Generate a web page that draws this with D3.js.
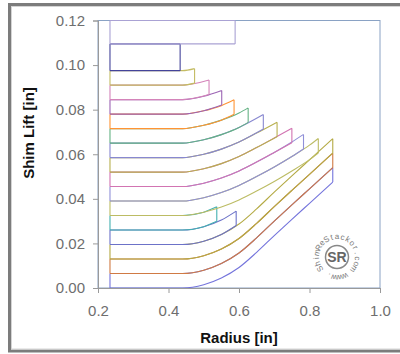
<!DOCTYPE html>
<html>
<head>
<meta charset="utf-8">
<script src="https://cdn.jsdelivr.net/npm/d3@7"></script>
<style>
  body { margin: 0; background: #fff; }
  svg { display: block; font-family: "Liberation Sans", Arial, sans-serif; }
</style>
</head>
<body>
<div id="chart"></div>
<script>
// shim stack, bottom (face shim) to top (clamp side)
// each shim: bottom edge as [radius, lift] pairs, in inches
const shimBottoms = [
  [[0.234, 0], [0.44, 0], [0.5, 0.0015], [0.55, 0.0045], [0.6, 0.0092], [0.65, 0.016], [0.7, 0.0235], [0.75, 0.0308], [0.8, 0.038], [0.866, 0.0475]],
  [[0.234, 0.0065], [0.44, 0.0065], [0.5, 0.008], [0.55, 0.011], [0.6, 0.0157], [0.65, 0.0225], [0.7, 0.03], [0.75, 0.0373], [0.8, 0.0445], [0.866, 0.054]],
  [[0.234, 0.013], [0.44, 0.013], [0.5, 0.0145], [0.55, 0.0175], [0.6, 0.0222], [0.65, 0.029], [0.7, 0.0365], [0.75, 0.0438], [0.8, 0.051], [0.866, 0.0605]],
  [[0.234, 0.0195], [0.44, 0.0195], [0.5, 0.021], [0.55, 0.024], [0.592, 0.028]],
  [[0.234, 0.026], [0.44, 0.026], [0.5, 0.0275], [0.537, 0.0299]],
  [[0.234, 0.0325], [0.44, 0.0325], [0.5, 0.034], [0.55, 0.0363], [0.6, 0.0395], [0.65, 0.0435], [0.7, 0.0478], [0.75, 0.0525], [0.8, 0.0576], [0.825, 0.0606]],
  [[0.234, 0.039], [0.44, 0.039], [0.5, 0.0405], [0.55, 0.0428], [0.6, 0.046], [0.65, 0.05], [0.7, 0.0543], [0.75, 0.059], [0.783, 0.0624]],
  [[0.234, 0.0455], [0.44, 0.0455], [0.5, 0.047], [0.55, 0.0493], [0.6, 0.0525], [0.65, 0.0565], [0.7, 0.0608], [0.75, 0.0652]],
  [[0.234, 0.052], [0.44, 0.052], [0.5, 0.0535], [0.55, 0.0558], [0.6, 0.059], [0.65, 0.063], [0.708, 0.0679]],
  [[0.234, 0.0585], [0.44, 0.0585], [0.5, 0.06], [0.55, 0.0623], [0.6, 0.0655], [0.669, 0.0713]],
  [[0.234, 0.065], [0.44, 0.065], [0.5, 0.0665], [0.55, 0.0688], [0.6, 0.072], [0.626, 0.0743]],
  [[0.234, 0.0715], [0.44, 0.0715], [0.5, 0.073], [0.55, 0.0753], [0.586, 0.0779]],
  [[0.234, 0.078], [0.44, 0.078], [0.5, 0.0795], [0.551, 0.0821]],
  [[0.234, 0.0845], [0.44, 0.0845], [0.515, 0.0868]],
  [[0.234, 0.091], [0.44, 0.091], [0.474, 0.0919]],
  [[0.234, 0.0975], [0.433, 0.0975]],
  [[0.234, 0.1095], [0.589, 0.1095]]
];
const shimThickness = [0.0065, 0.0065, 0.0065, 0.0065, 0.0065, 0.0065, 0.0065, 0.0065, 0.0065,
  0.0065, 0.0065, 0.0065, 0.0065, 0.0065, 0.0065, 0.012, 0.0105];
const shimColors = ['#7474dc', '#d07a44', '#b4aa44', '#6c72c8', '#44b0b0', '#bcbc64', '#9090d8', '#d274b2',
  '#b8b050', '#8888d0', '#64b284', '#ff9434', '#9c64b4', '#d484ba', '#c4bc64', '#44449a', '#aaa2d4'];

const xTicks = [0.2, 0.4, 0.6, 0.8, 1.0];
const yTicks = [0, 0.02, 0.04, 0.06, 0.08, 0.1, 0.12];

const W = 400, H = 354;
const plot = { left: 98, right: 380, top: 20.5, bottom: 288 };

const svg = d3.select('#chart').append('svg').attr('width', W).attr('height', H);

// chart frame
svg.append('rect').attr('x', 9.5).attr('y', 4.5).attr('width', 396).attr('height', 346.5)
  .attr('fill', '#fff').attr('stroke', '#7c7c7c').attr('stroke-width', 3);
svg.append('rect').attr('x', 11.5).attr('y', 6.5).attr('width', 392).attr('height', 342.5)
  .attr('fill', 'none').attr('stroke', '#d4d4d4').attr('stroke-width', 1);

const x = d3.scaleLinear().domain([0.2, 1.0]).range([plot.left, plot.right]);
const y = d3.scaleLinear().domain([0, 0.12]).range([plot.bottom, plot.top]);

// plot area border
svg.append('rect').attr('x', plot.left).attr('y', plot.top)
  .attr('width', plot.right - plot.left).attr('height', plot.bottom - plot.top)
  .attr('fill', 'none').attr('stroke', '#8aa2c4').attr('stroke-width', 1);

const edge = d3.line().x(d => x(d[0])).y(d => y(d[1])).curve(d3.curveMonotoneX);

const g = svg.append('g');
shimBottoms.forEach((pts, i) => {
  const t = shimThickness[i];
  const top = pts.map(p => [p[0], p[1] + t]);
  const a = pts[0], b = pts[pts.length - 1];
  const d = edge(pts) + edge(top) +
    `M${x(a[0])},${y(a[1])}L${x(a[0])},${y(a[1] + t)}` +
    `M${x(b[0])},${y(b[1])}L${x(b[0])},${y(b[1] + t)}`;
  g.append('path').attr('d', d).attr('fill', 'none')
    .attr('stroke', shimColors[i]).attr('stroke-width', 1.1).attr('stroke-linejoin', 'round');
});

// axes
const yAxis = svg.append('g').attr('transform', `translate(${plot.left},0)`)
  .call(d3.axisLeft(y).tickValues(yTicks).tickFormat(d3.format('.2f')).tickSizeOuter(0).tickSize(5).tickPadding(8));
const xAxis = svg.append('g').attr('transform', `translate(0,${plot.bottom})`)
  .call(d3.axisBottom(x).tickValues(xTicks).tickFormat(d3.format('.1f')).tickSizeOuter(0).tickSize(5).tickPadding(12));
[yAxis, xAxis].forEach(ax => {
  ax.select('.domain').attr('stroke', '#9a9a9a');
  ax.selectAll('.tick line').attr('stroke', '#9a9a9a');
  ax.selectAll('.tick text').attr('fill', '#6e6e6e')
    .style('font-size', '15px').style('font-family', '"Liberation Sans", Arial, sans-serif');
});

// axis titles
svg.append('text').attr('x', (plot.left + plot.right) / 2).attr('y', 343)
  .attr('text-anchor', 'middle').style('font-size', '15px').style('font-weight', 'bold')
  .attr('fill', '#111').text('Radius [in]');
svg.append('text').attr('transform', 'translate(34,133) rotate(-90)')
  .attr('text-anchor', 'middle').style('font-size', '15px').style('font-weight', 'bold')
  .attr('fill', '#111').text('Shim Lift [in]');

// watermark logo: ring of letters around "SR"
const logo = svg.append('g').attr('transform', 'translate(337,257)');
const ringText = 'ShimReStackor.com www.';
const chars = ringText.split('');
const step = 360 / (chars.length + 1);
logo.selectAll('text.ring').data(chars).enter().append('text')
  .attr('class', 'ring')
  .attr('transform', (c, i) => `rotate(${-125 + i * step}) translate(0,-18)`)
  .attr('text-anchor', 'middle')
  .style('font-size', '8px').attr('fill', '#7a7a7a')
  .text(c => c);
logo.append('circle').attr('r', 11.5).attr('fill', 'none').attr('stroke', '#888').attr('stroke-width', 1.5);
logo.append('text').attr('text-anchor', 'middle').attr('y', 5)
  .style('font-size', '14px').style('font-weight', 'bold').attr('fill', '#666').text('SR');
</script>
</body>
</html>
